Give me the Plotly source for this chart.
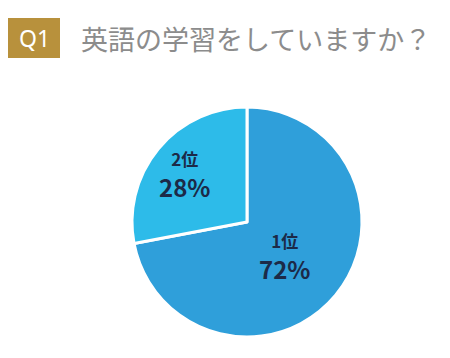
import math
import plotly.graph_objects as go

labels = ["1位", "2位"]
values = [72, 28]
colors = ["#2f9fda", "#2dbbe9"]
label_radius = [0.42, 0.70]   # fraction of pie radius where each label sits
title_tag = "Q1"
title_text = "英語の学習をしていますか？"

OFF = 8                      # page body margin
W, H = 450 - OFF, 358 - OFF

def px(x):
    return (x - OFF) / W

def py(y):
    return 1 - (y - OFF) / H

cx, cy, R = 247, 222, 115
fig = go.Figure(go.Pie(
    labels=labels, values=values, sort=False, direction="clockwise", rotation=0,
    marker=dict(colors=colors, line=dict(color="white", width=3)),
    textinfo="none", showlegend=False, hoverinfo="label+percent",
    domain=dict(x=[px(cx - R), px(cx + R)], y=[py(cy + R), py(cy - R)]),
))

total = sum(values)
start = 0.0
for lab, v, rf in zip(labels, values, label_radius):
    mid = (start + v / 2) / total * 2 * math.pi
    start += v
    lx = cx + math.sin(mid) * rf * R
    ly = cy - math.cos(mid) * rf * R + 4
    fig.add_annotation(
        x=px(lx), y=py(ly), xref="paper", yref="paper", showarrow=False,
        xanchor="center", yanchor="middle",
        text=f"<b><span style='font-size:17px'>{lab}</span><br>{round(v / total * 100)}%</b>",
        font=dict(family="Noto Sans CJK JP", size=24, color="#1c2a48"),
    )

fig.add_shape(type="rect", xref="paper", yref="paper",
              x0=px(8), x1=px(60), y0=py(58), y1=py(18),
              fillcolor="#b8913c", line=dict(width=0), layer="below")
fig.add_annotation(x=px(34), y=py(38), xref="paper", yref="paper", text=title_tag,
                   xanchor="center", yanchor="middle", showarrow=False,
                   font=dict(family="Noto Sans", size=23, color="white"))
fig.add_annotation(x=px(79), y=py(38), xref="paper", yref="paper", text=title_text,
                   xanchor="left", yanchor="middle", showarrow=False,
                   font=dict(family="Noto Sans CJK JP", size=27, color="#8c8c8c"))
fig.update_layout(width=W, height=H, margin=dict(l=0, r=0, t=0, b=0),
                  paper_bgcolor="white", plot_bgcolor="white")
fig.write_html("out.html")
